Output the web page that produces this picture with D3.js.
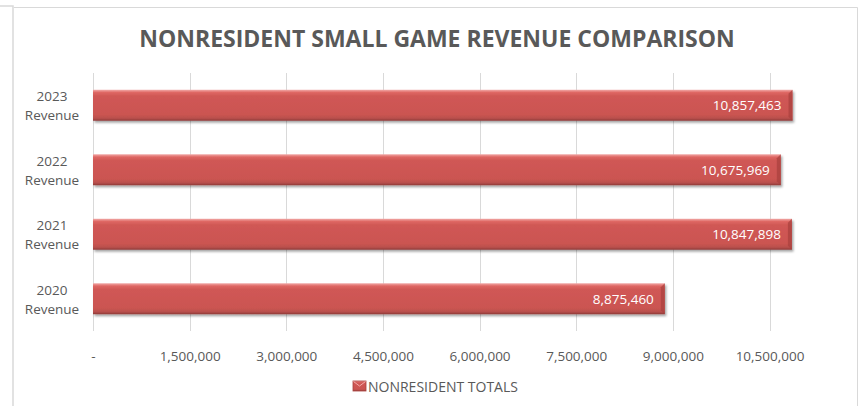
<!DOCTYPE html>
<html>
<head>
<meta charset="utf-8">
<script src="https://cdn.jsdelivr.net/npm/d3@7"></script>
<style>
  body { margin: 0; background: #fff; }
  text { font-family: "Open Sans", "Liberation Sans", sans-serif; }
</style>
</head>
<body>
<div id="chart"></div>
<script>
// data
var categories = ["2023 Revenue", "2022 Revenue", "2021 Revenue", "2020 Revenue"];
var totals = [10857463, 10675969, 10847898, 8875460];
var tickValues = [0, 1500000, 3000000, 4500000, 6000000, 7500000, 9000000, 10500000];
var seriesName = "NONRESIDENT TOTALS";
var title = "NONRESIDENT SMALL GAME REVENUE COMPARISON";

var width = 865, height = 406;
var textColor = "#595959";

var svg = d3.select("#chart")
    .append("svg")
    .attr("width", width)
    .attr("height", height);

var defs = svg.append("defs");

// bevel-ish gradient like the excel bars
var grad = defs.append("linearGradient")
    .attr("id", "barGrad")
    .attr("x1", 0).attr("y1", 0).attr("x2", 0).attr("y2", 1);
grad.append("stop").attr("offset", "0%").attr("stop-color", "#f2aaa8");
grad.append("stop").attr("offset", "9%").attr("stop-color", "#de6663");
grad.append("stop").attr("offset", "20%").attr("stop-color", "#d05855");
grad.append("stop").attr("offset", "80%").attr("stop-color", "#cb5451");
grad.append("stop").attr("offset", "92%").attr("stop-color", "#b9504d");
grad.append("stop").attr("offset", "100%").attr("stop-color", "#8e3a37");

var shadow = defs.append("filter")
    .attr("id", "shadow")
    .attr("x", "-5%").attr("y", "-20%")
    .attr("width", "110%").attr("height", "160%");
shadow.append("feDropShadow")
    .attr("dx", 1.5).attr("dy", 2)
    .attr("stdDeviation", 1.2)
    .attr("flood-color", "#000")
    .attr("flood-opacity", 0.35);

// chart frame
svg.append("path")
    .attr("d", "M0,6H13V406")
    .attr("fill", "none")
    .attr("stroke", "#d9d9d9")
    .attr("stroke-width", 1.5);
svg.append("path")
    .attr("d", "M14,7.5H857.5V406")
    .attr("fill", "none")
    .attr("stroke", "#d9d9d9")
    .attr("stroke-width", 1);

// title
svg.append("text")
    .attr("x", 437)
    .attr("y", 47)
    .attr("text-anchor", "middle")
    .attr("font-size", 23)
    .attr("font-weight", "bold")
    .attr("fill", textColor)
    .text(title);

// scales
var x = d3.scaleLinear()
    .domain([0, 10500000])
    .range([93, 769.5]);

var y = d3.scaleBand()
    .domain(categories)
    .range([73, 331])
    .paddingInner(0.52)
    .paddingOuter(0.26);

// gridlines
svg.append("g")
    .selectAll("line")
    .data(tickValues)
    .enter()
    .append("line")
    .attr("x1", function (d) { return Math.round(x(d)) + 0.5; })
    .attr("x2", function (d) { return Math.round(x(d)) + 0.5; })
    .attr("y1", 73)
    .attr("y2", 331)
    .attr("stroke", "#d9d9d9")
    .attr("stroke-width", 1);

// x axis labels
var xAxis = svg.append("g")
    .attr("transform", "translate(0,331)")
    .call(d3.axisBottom(x)
        .tickValues(tickValues)
        .tickSize(0)
        .tickPadding(20)
        .tickFormat(function (d) { return d === 0 ? "-" : d3.format(",")(d); }));
xAxis.select(".domain").remove();
xAxis.selectAll("text")
    .attr("font-family", "Open Sans")
    .attr("font-size", 13.5)
    .attr("fill", textColor);

// y axis labels (two lines)
var yLab = svg.append("g")
    .selectAll("text")
    .data(categories)
    .enter()
    .append("text")
    .attr("text-anchor", "middle")
    .attr("font-size", 13.5)
    .attr("fill", textColor);
yLab.append("tspan")
    .attr("x", 52)
    .attr("y", function (d) { return y(d) + y.bandwidth() / 2 - 4; })
    .text(function (d) { return d.split(" ")[0]; });
yLab.append("tspan")
    .attr("x", 52)
    .attr("y", function (d) { return y(d) + y.bandwidth() / 2 + 15; })
    .text(function (d) { return d.split(" ")[1]; });

// bars
var bars = svg.append("g")
    .selectAll("g")
    .data(totals)
    .enter()
    .append("g");

bars.append("rect")
    .attr("x", x(0))
    .attr("y", function (d, i) { return y(categories[i]); })
    .attr("width", function (d) { return x(d) - x(0); })
    .attr("height", y.bandwidth())
    .attr("fill", "url(#barGrad)")
    .attr("filter", "url(#shadow)");

// darker bevel on the bar end
bars.append("path")
    .attr("d", function (d, i) {
        var x1 = x(d), y0 = y(categories[i]), h = y.bandwidth();
        return "M" + (x1 - 4) + "," + (y0 + 4) + "L" + x1 + "," + y0 +
            "V" + (y0 + h) + "L" + (x1 - 4) + "," + (y0 + h - 4) + "Z";
    })
    .attr("fill", "#a8403d")
    .attr("opacity", 0.7);

// value labels
bars.append("text")
    .attr("x", function (d) { return x(d) - 11; })
    .attr("y", function (d, i) { return y(categories[i]) + y.bandwidth() / 2 + 5; })
    .attr("text-anchor", "end")
    .attr("font-size", 13.5)
    .attr("fill", "#ffffff")
    .text(function (d) { return d3.format(",")(d); });

// legend
var legend = svg.append("g").attr("transform", "translate(353,381)");
legend.append("rect")
    .attr("width", 13)
    .attr("height", 10)
    .attr("fill", "url(#barGrad)")
    .attr("stroke", "#a8403d")
    .attr("stroke-width", 0.8);
legend.append("path")
    .attr("d", "M0.5,0.5L6.5,5L12.5,0.5")
    .attr("fill", "none")
    .attr("stroke", "#f2aaa8")
    .attr("stroke-width", 1);
legend.append("text")
    .attr("x", 15)
    .attr("y", 10.5)
    .attr("font-size", 14)
    .attr("fill", textColor)
    .text(seriesName);
</script>
</body>
</html>
